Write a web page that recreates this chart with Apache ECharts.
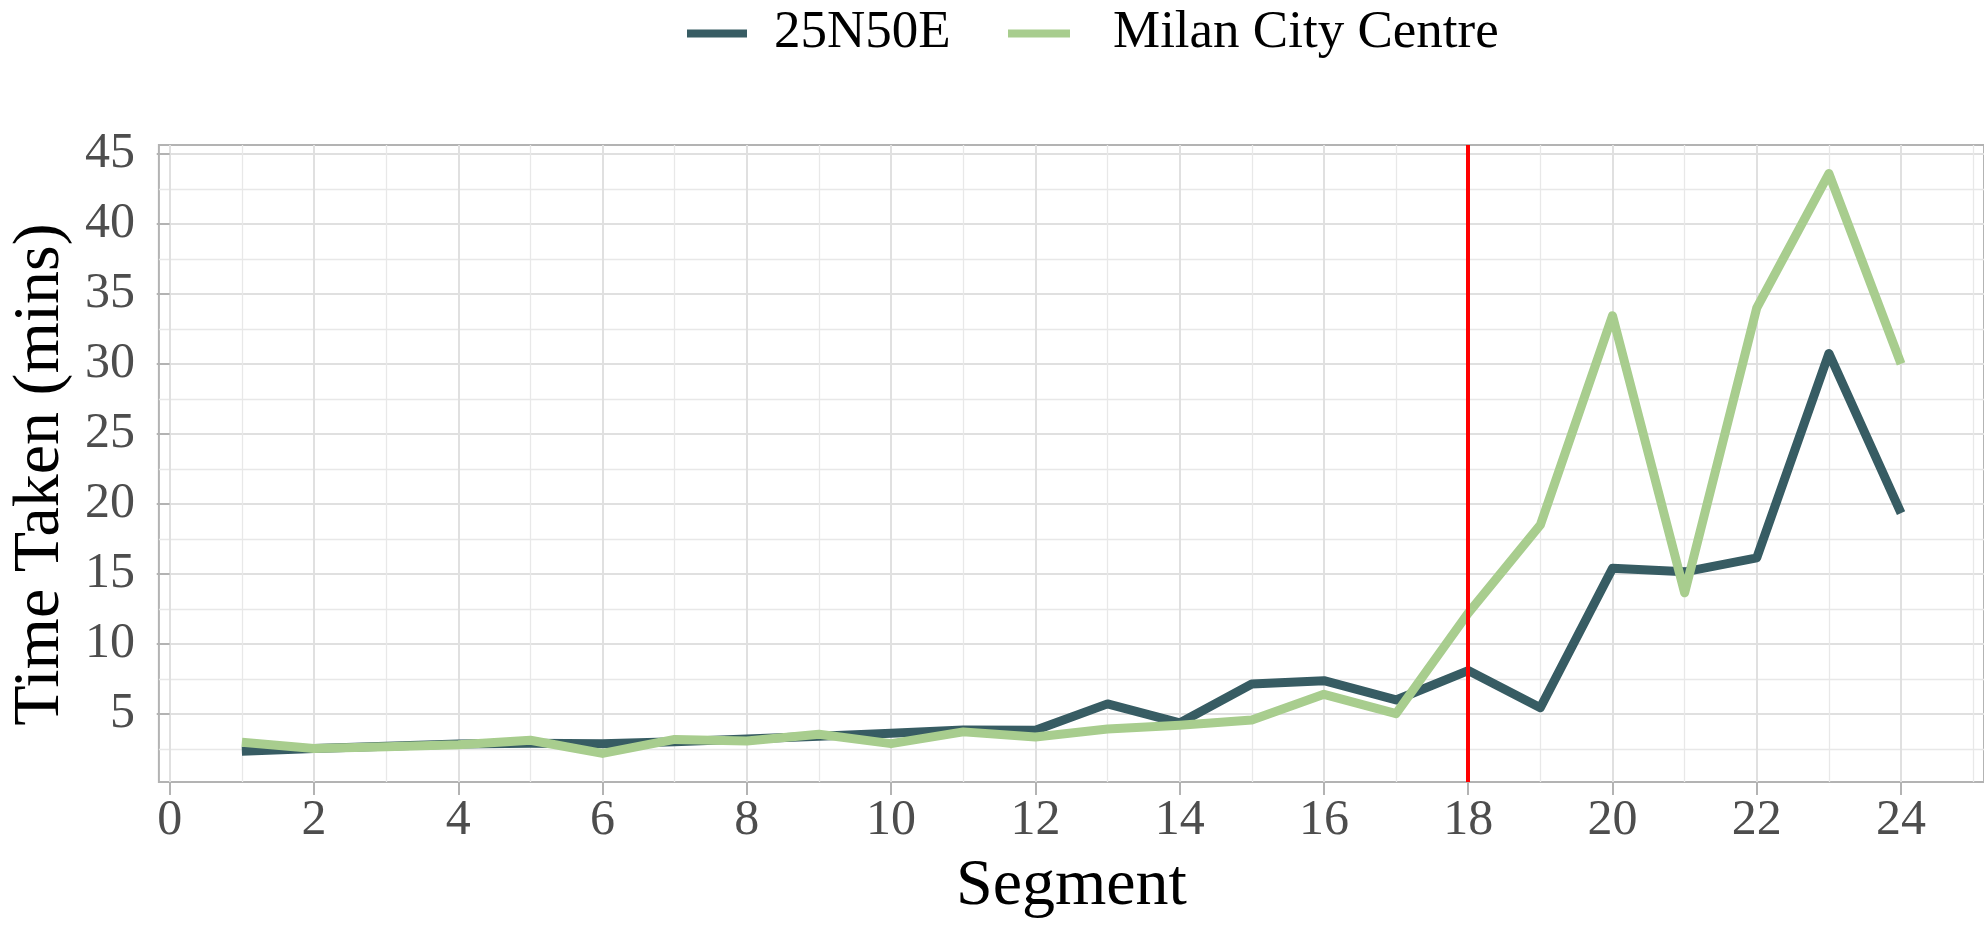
<!DOCTYPE html>
<html>
<head>
<meta charset="utf-8">
<script src="https://cdn.jsdelivr.net/npm/echarts@6/dist/echarts.min.js"></script>
<style>
  html, body { margin: 0; padding: 0; background: #fff; }
  #chart { width: 1984px; height: 929px; }
</style>
</head>
<body>
<div id="chart"></div>
<script>
// values
const segments = [1, 2, 3, 4, 5, 6, 7, 8, 9, 10, 11, 12, 13, 14, 15, 16, 17, 18, 19, 20, 21, 22, 23, 24]
const time25N50E = [2.34, 2.53, 2.7, 2.86, 2.9, 2.88, 3.02, 3.22, 3.4, 3.62, 3.86, 3.84, 5.72, 4.36, 7.14, 7.38, 6.0, 8.1, 5.45, 15.4, 15.15, 16.15, 30.75, 19.35]
const timeMilan = [2.98, 2.53, 2.66, 2.8, 3.12, 2.18, 3.18, 3.07, 3.55, 2.88, 3.72, 3.36, 3.92, 4.2, 4.57, 6.4, 5.02, 12.2, 18.5, 33.45, 13.65, 34.0, 43.6, 30.0]
const cutoffSegment = 18

const xTicks = [0, 2, 4, 6, 8, 10, 12, 14, 16, 18, 20, 22, 24]
const xMinor = [1, 3, 5, 7, 9, 11, 13, 15, 17, 19, 21, 23, 25]
const yTicks = [5, 10, 15, 20, 25, 30, 35, 40, 45]
const yMinor = [2.5, 7.5, 12.5, 17.5, 22.5, 27.5, 32.5, 37.5, 42.5]

const FONT = 'Liberation Serif'
const grey70 = '#b3b3b3'
const gridColor = '#e0e0e0'
const minorColor = '#e8e8e8'

const chart = echarts.init(document.getElementById('chart'))

function pairs (vals) {
  return segments.map((s, i) => [s, vals[i]])
}

// one legend per key so each can sit where ggplot put it
function legendItem (name, left, keyWidth, gap) {
  return {
    data: [name],
    left: left,
    top: 2,
    icon: 'rect',
    itemWidth: keyWidth,
    itemHeight: 8,
    formatter: n => '{s| }' + n,
    textStyle: {
      fontFamily: FONT,
      fontSize: 53,
      color: '#000',
      rich: { s: { width: gap, fontSize: 53 } }
    }
  }
}

const xRange = { min: -0.15, max: 25.15 }
const yRange = { min: 0.14, max: 45.64 }

const option = {
  animation: false,
  backgroundColor: '#fff',
  legend: [
    legendItem('25N50E', 682, 60, 22),
    legendItem('Milan City Centre', 1003, 62, 38)
  ],
  grid: {
    left: 157,
    right: -3,
    top: 145,
    bottom: 147,
    show: true,
    borderColor: grey70,
    borderWidth: 2
  },
  xAxis: [
    {
      type: 'value',
      ...xRange,
      name: 'Segment',
      nameLocation: 'middle',
      nameGap: 72,
      nameTextStyle: { fontFamily: FONT, fontSize: 66, color: '#000' },
      axisLine: { show: false },
      axisTick: { show: true, length: 13, customValues: xTicks, lineStyle: { color: grey70, width: 2 } },
      axisLabel: { customValues: xTicks, margin: 14, fontFamily: FONT, fontSize: 50, color: '#4d4d4d' },
      splitLine: { show: true, lineStyle: { color: gridColor, width: 2 } }
    },
    {
      type: 'value',
      ...xRange,
      position: 'bottom',
      axisLine: { show: false },
      axisTick: { show: false, customValues: xMinor },
      axisLabel: { show: false },
      splitLine: { show: true, lineStyle: { color: minorColor, width: 1.3 } }
    }
  ],
  yAxis: [
    {
      type: 'value',
      ...yRange,
      name: 'Time Taken (mins)',
      nameLocation: 'middle',
      nameGap: 82,
      nameTextStyle: { fontFamily: FONT, fontSize: 66, color: '#000', padding: [0, 22, 0, 0] },
      axisLine: { show: false },
      axisTick: { show: true, length: 13, customValues: yTicks, lineStyle: { color: grey70, width: 2 } },
      axisLabel: { customValues: yTicks, margin: 24, fontFamily: FONT, fontSize: 50, color: '#4d4d4d' },
      splitLine: { show: true, lineStyle: { color: gridColor, width: 2 } }
    },
    {
      type: 'value',
      ...yRange,
      position: 'left',
      axisLine: { show: false },
      axisTick: { show: false, customValues: yMinor },
      axisLabel: { show: false },
      splitLine: { show: true, lineStyle: { color: minorColor, width: 1.3 } }
    }
  ],
  series: [
    {
      name: '25N50E',
      type: 'line',
      data: pairs(time25N50E),
      showSymbol: false,
      color: '#375c63',
      lineStyle: { width: 9, join: 'round' },
      z: 3
    },
    {
      name: 'Milan City Centre',
      type: 'line',
      data: pairs(timeMilan),
      showSymbol: false,
      color: '#a8cd8e',
      lineStyle: { width: 9, join: 'round' },
      z: 4
    },
    {
      name: 'cutoff',
      type: 'line',
      data: [],
      z: 6,
      markLine: {
        silent: true,
        symbol: 'none',
        label: { show: false },
        lineStyle: { color: '#ff0000', width: 4, type: 'solid' },
        data: [{ xAxis: cutoffSegment }]
      }
    }
  ]
}

chart.setOption(option)
</script>
</body>
</html>
